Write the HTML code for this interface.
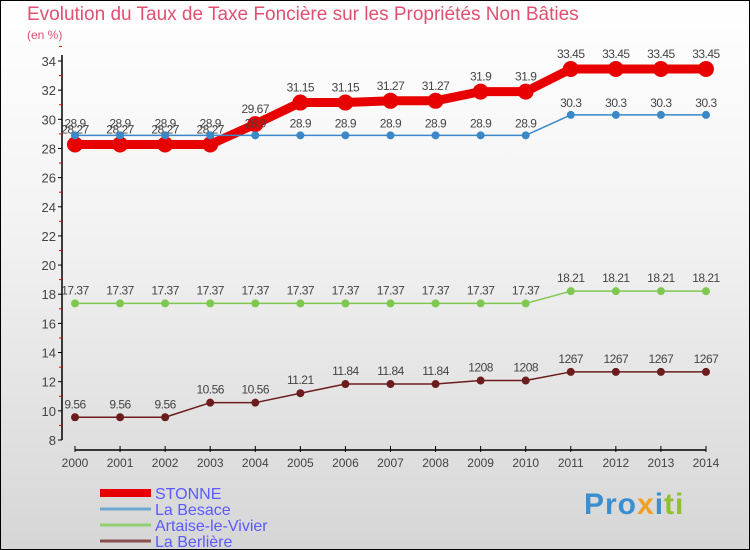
<!DOCTYPE html>
<html><head><meta charset="utf-8"><style>
body{margin:0;width:750px;height:550px;overflow:hidden;font-family:"Liberation Sans",sans-serif}
#wrap{position:relative;width:748px;height:548px;border:1px solid #000;background:linear-gradient(#fff 0%,#f3f3f3 40%,#d6d6d6 100%)}
.t{position:absolute;color:#e05070}
</style></head><body>
<div id="wrap">
<div class="t" style="left:26px;top:3px;font-size:19px">Evolution du Taux de Taxe Foncière sur les Propriétés Non Bâties</div>
<div class="t" style="left:26px;top:27px;font-size:12px">(en %)</div>
<div style="position:absolute;left:583px;top:487px;font-size:30px;font-weight:bold;letter-spacing:1px"><span style="color:#3a8fd0">Pro</span><span style="color:#f0a020">x</span><span style="color:#3a8fd0">i</span><span style="color:#90c030">ti</span></div>
<svg id="svg" width="750" height="550" style="position:absolute;left:-1px;top:-1px"></svg>
</div>
<script>
const years=[2000,2001,2002,2003,2004,2005,2006,2007,2008,2009,2010,2011,2012,2013,2014];
const stonne=[28.27,28.27,28.27,28.27,29.67,31.15,31.15,31.27,31.27,31.9,31.9,33.45,33.45,33.45,33.45];
const besace=[28.9,28.9,28.9,28.9,28.9,28.9,28.9,28.9,28.9,28.9,28.9,30.3,30.3,30.3,30.3];
const artaise=[17.37,17.37,17.37,17.37,17.37,17.37,17.37,17.37,17.37,17.37,17.37,18.21,18.21,18.21,18.21];
const berliere=[9.56,9.56,9.56,10.56,10.56,11.21,11.84,11.84,11.84,12.08,12.08,12.67,12.67,12.67,12.67];
const stonneLbl=["28.27","28.27","28.27","28.27","29.67","31.15","31.15","31.27","31.27","31.9","31.9","33.45","33.45","33.45","33.45"];
const besaceLbl=["28.9","28.9","28.9","28.9","28.9","28.9","28.9","28.9","28.9","28.9","28.9","30.3","30.3","30.3","30.3"];
const artaiseLbl=["17.37","17.37","17.37","17.37","17.37","17.37","17.37","17.37","17.37","17.37","17.37","18.21","18.21","18.21","18.21"];
const berliereLbl=["9.56","9.56","9.56","10.56","10.56","11.21","11.84","11.84","11.84","1208","1208","1267","1267","1267","1267"];
const yTicks=[8,10,12,14,16,18,20,22,24,26,28,30,32,34];
const NS="http://www.w3.org/2000/svg",svg=document.getElementById('svg');
const x=i=>75+i*45.07, y=v=>440-(v-8)*(379/26);
function mk(t,a,p){const e=document.createElementNS(NS,t);for(const k in a)e.setAttribute(k,a[k]);(p||svg).appendChild(e);return e;}
// axes
let ax=mk('line',{x1:62,y1:55,x2:62,y2:440,stroke:'#000','stroke-width':1.5});

let xa=mk('line',{x1:75,y1:450,x2:706,y2:450,stroke:'#000','stroke-width':1.5});

yTicks.forEach(v=>{mk('line',{x1:58,x2:62,y1:y(v),y2:y(v),stroke:'#000'});
 mk('line',{x1:59,x2:62,y1:y(v+1),y2:y(v+1),stroke:'#e00'});
 const t=mk('text',{x:56,y:y(v)+5,'text-anchor':'end','font-size':13,fill:'#444','font-family':'Liberation Sans'});t.textContent=v;
 });
years.forEach((yr,i)=>{mk('line',{x1:x(i),x2:x(i),y1:446,y2:452,stroke:'#000'});
 const t=mk('text',{x:x(i),y:467,'text-anchor':'middle','font-size':12,fill:'#444','font-family':'Liberation Sans'});t.textContent=yr;
 });
function series(vals,lbls,col,lw,r,name,dy){
 const g=mk('g',{});
 mk('polyline',{points:vals.map((v,i)=>x(i)+','+y(v)).join(' '),fill:'none',stroke:col,'stroke-width':lw,'stroke-linejoin':'round'},g);
 vals.forEach((v,i)=>{const c=mk('circle',{cx:x(i),cy:y(v),r:r,fill:col},g);
  
  const t=mk('text',{x:x(i),y:y(v)+dy,'text-anchor':'middle','font-size':12,fill:'#444','font-family':'Liberation Sans','letter-spacing':'-0.5'},g);t.textContent=lbls[i];
  });
}
series(berliere,berliereLbl,'#6b1c1c',1.5,4,'la-berliere',-9);
series(artaise,artaiseLbl,'#7ec850',1.5,4,'artaise-le-vivier',-9);
series(stonne,stonneLbl,'#e80000',9,8,'stonne',-11);
series(besace,besaceLbl,'#3a88c8',1.5,4,'la-besace',-8);
const leg=[['STONNE','#e80000',8],['La Besace','#6ea8d0',3],['Artaise-le-Vivier','#90d070',3],['La Berlière','#8a5050',3]];
leg.forEach((l,i)=>{const yy=493+i*16;
 const ln=mk('line',{x1:100,x2:151,y1:yy,y2:yy,stroke:l[1],'stroke-width':l[2]});
 
 const t=mk('text',{x:155,y:yy+6,'font-size':16,fill:'#5a5aff','font-family':'Liberation Sans'});t.textContent=l[0];
 });
</script>
</body></html>
